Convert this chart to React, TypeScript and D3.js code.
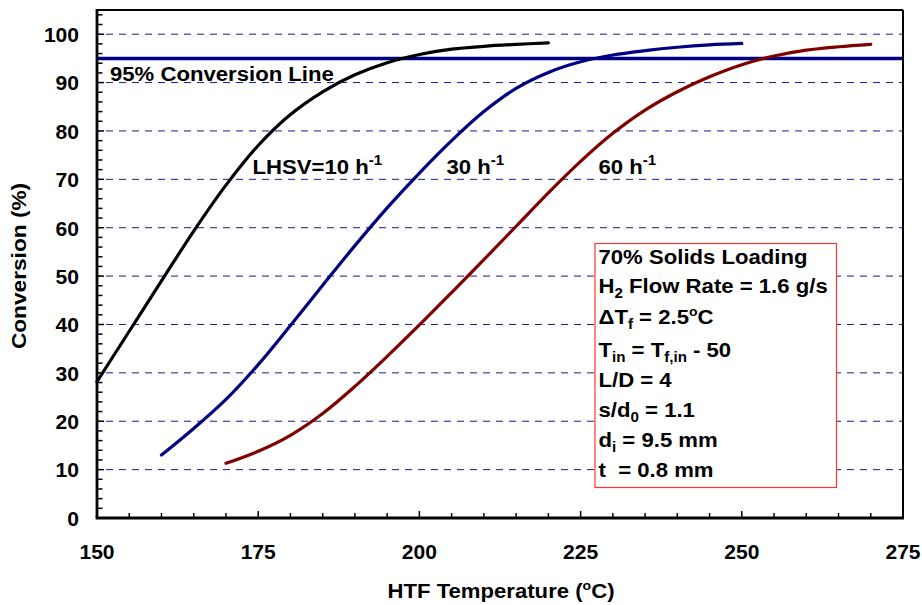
import React from "react";
import * as d3 from "d3";

// Conversion vs. heat-transfer-fluid temperature for three LHSV values
const temps10 = [150, 155, 160, 165, 170, 175, 180, 185, 190, 195, 200, 205, 210, 215, 220];
const conv10 = [28.2, 38.6, 49.0, 59.3, 68.8, 77.0, 83.4, 88.1, 91.6, 94.1, 95.8, 96.9, 97.5, 97.9, 98.2];

const temps30 = [160, 165, 170, 175, 180, 185, 190, 195, 200, 205, 210, 215, 220, 225, 230, 235, 240, 245, 250];
const conv30 = [13, 18.5, 24.5, 31.7, 39.8, 48.1, 56.3, 64.1, 71.3, 78.0, 84.0, 88.8, 92.1, 94.3, 95.7, 96.6, 97.3, 97.8, 98.1];

const temps60 = [170, 175, 180, 185, 190, 195, 200, 205, 210, 215, 220, 225, 230, 235, 240, 245, 250, 255, 260, 265, 270];
const conv60 = [11.3, 13.8, 17.1, 21.6, 27.2, 33.4, 39.9, 46.6, 53.4, 60.3, 67.2, 73.7, 79.5, 84.3, 88.1, 91.2, 93.7, 95.5, 96.7, 97.4, 97.9];

const xTicks = [150, 175, 200, 225, 250, 275];
const yTicks = [0, 10, 20, 30, 40, 50, 60, 70, 80, 90, 100];
const gridValues = [10, 20, 30, 40, 50, 60, 70, 80, 90, 100];
const targetConversion = 95;

const W = 922;
const H = 605;
const left = 97;
const right = 903;
const top = 10;
const bottom = 518;

const FONT = "'Liberation Sans', Arial, Helvetica, sans-serif";
const SX = 1.08; // slightly wide lettering

type TProps = {
  x: number;
  y: number;
  size: number;
  anchor?: "start" | "middle" | "end";
  rotate?: number;
  children: React.ReactNode;
};

function Label({ x, y, size, anchor = "start", rotate = 0, children }: TProps) {
  const tr = rotate
    ? `translate(${x},${y}) rotate(${rotate}) scale(${SX},1)`
    : `translate(${x},${y}) scale(${SX},1)`;
  return (
    <text transform={tr} fontSize={size} textAnchor={anchor} fill="#000" xmlSpace="preserve">
      {children}
    </text>
  );
}

export default function App() {
  const x = d3.scaleLinear().domain([150, 275]).range([left, right]);
  const y = d3.scaleLinear().domain([0, 105]).range([bottom, top]);

  const line = d3
    .line<[number, number]>()
    .x((d) => x(d[0]))
    .y((d) => y(d[1]))
    .curve(d3.curveCatmullRom.alpha(0.5));

  const series = [
    { t: temps10, c: conv10, color: "#000000" },
    { t: temps30, c: conv30, color: "#000080" },
    { t: temps60, c: conv60, color: "#800000" },
  ];

  const xMinor = d3.range(150, 276, 5);
  const yMinor = d3.range(0, 105, 2);

  const sub = 14;
  const infoLines: React.ReactNode[] = [
    <>70% Solids Loading</>,
    <>
      H<tspan dy={5} fontSize={sub}>2</tspan>
      <tspan dy={-5}> Flow Rate = 1.6 g/s</tspan>
    </>,
    <>
      ΔT<tspan dy={5} fontSize={sub}>f</tspan>
      <tspan dy={-5}> = 2.5</tspan>
      <tspan dy={-8} fontSize={13}>o</tspan>
      <tspan dy={8}>C</tspan>
    </>,
    <>
      T<tspan dy={5} fontSize={sub}>in</tspan>
      <tspan dy={-5}> = T</tspan>
      <tspan dy={5} fontSize={sub}>f,in</tspan>
      <tspan dy={-5}> - 50</tspan>
    </>,
    <>L/D = 4</>,
    <>
      s/d<tspan dy={5} fontSize={sub}>0</tspan>
      <tspan dy={-5}> = 1.1</tspan>
    </>,
    <>
      d<tspan dy={5} fontSize={sub}>i</tspan>
      <tspan dy={-5}> = 9.5 mm</tspan>
    </>,
    <>t  = 0.8 mm</>,
  ];
  const infoBaselines = [264, 293, 324, 357, 387, 417, 447, 477];

  return (
    <svg
      width={W}
      height={H}
      style={{ position: "absolute", left: 0, top: 0, background: "#fff" }}
      fontFamily={FONT}
      fontWeight="bold"
    >
      <rect x={0} y={0} width={W} height={H} fill="#fff" />

      {/* dashed horizontal grid */}
      {gridValues.map((v) => (
        <line
          key={"g" + v}
          x1={left}
          x2={right}
          y1={y(v)}
          y2={y(v)}
          stroke="#1a1a8c"
          strokeWidth={1}
          strokeDasharray="7,6"
          strokeDashoffset={-9}
        />
      ))}

      {/* 95% conversion line */}
      <line
        x1={left}
        x2={right}
        y1={y(targetConversion)}
        y2={y(targetConversion)}
        stroke="#000080"
        strokeWidth={3.5}
      />
      <Label x={110} y={80.5} size={20.5}>
        95% Conversion Line
      </Label>

      {/* series curves */}
      {series.map((s, i) => (
        <path
          key={"s" + i}
          d={line(s.t.map((t, j) => [t, s.c[j]] as [number, number])) || ""}
          fill="none"
          stroke={s.color}
          strokeWidth={3.2}
          strokeLinecap="round"
        />
      ))}

      {/* curve labels */}
      <Label x={252.5} y={174.3} size={20.5}>
        LHSV=10 h<tspan dy={-9.5} fontSize={14}>-1</tspan>
      </Label>
      <Label x={446.5} y={174.3} size={20.5}>
        30 h<tspan dy={-9.5} fontSize={14}>-1</tspan>
      </Label>
      <Label x={598.5} y={174.3} size={20.5}>
        60 h<tspan dy={-9.5} fontSize={14}>-1</tspan>
      </Label>

      {/* information box */}
      <rect x={595} y={243.5} width={241.5} height={244} fill="#fff" stroke="#ff3333" strokeWidth={1.2} />
      {infoLines.map((content, i) => (
        <Label key={"i" + i} x={598.5} y={infoBaselines[i]} size={20.5}>
          {content}
        </Label>
      ))}

      {/* frame */}
      <line x1={left} x2={right} y1={top} y2={top} stroke="#000" strokeWidth={2} />
      <line x1={right} x2={right} y1={top} y2={bottom} stroke="#000" strokeWidth={2} />
      <line x1={left - 1.3} x2={right + 1} y1={bottom} y2={bottom} stroke="#000" strokeWidth={2.8} />
      <line x1={left} x2={left} y1={top - 1} y2={bottom} stroke="#000" strokeWidth={2.8} />

      {/* ticks */}
      {xMinor.map((v) => (
        <line key={"xt" + v} x1={x(v)} x2={x(v)} y1={bottom} y2={bottom - (v % 25 === 0 ? 7 : 5)} stroke="#000" strokeWidth={1.5} />
      ))}
      {yMinor.map((v) => (
        <line key={"yt" + v} x1={left} x2={left + (v % 10 === 0 ? 7 : 5.5)} y1={y(v)} y2={y(v)} stroke="#000" strokeWidth={1.5} />
      ))}

      {/* tick labels */}
      {xTicks.map((v) => (
        <Label key={"xl" + v} x={x(v)} y={559} size={19.5} anchor="middle">
          {v}
        </Label>
      ))}
      {yTicks.map((v) => (
        <Label key={"yl" + v} x={79} y={y(v) + 7.8} size={19.5} anchor="end">
          {v}
        </Label>
      ))}

      {/* axis titles */}
      <Label x={501} y={598} size={20.5} anchor="middle">
        HTF Temperature (<tspan dy={-8} fontSize={13}>o</tspan>
        <tspan dy={8}>C)</tspan>
      </Label>
      <Label x={26} y={266} size={21} anchor="middle" rotate={-90}>
        Conversion (%)
      </Label>
    </svg>
  );
}
